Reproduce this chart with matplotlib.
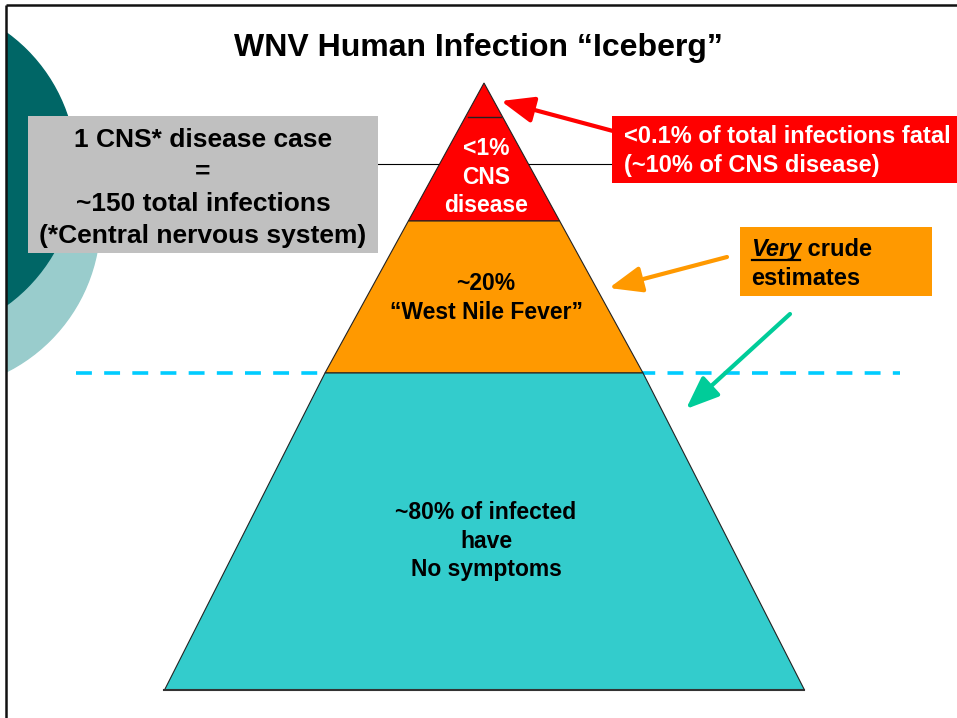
import matplotlib.pyplot as plt
from matplotlib.patches import Polygon, Circle, Rectangle

# Text content
title = "WNV Human Infection \u201cIceberg\u201d"
layer_labels = ["<1%\nCNS\ndisease",
                "~20%\n\u201cWest Nile Fever\u201d",
                "~80% of infected\nhave\nNo symptoms"]
layer_colors = ["#FF0000", "#FF9900", "#33CCCC"]
layer_text_colors = ["white", "black", "black"]
ratio_lines = ["1 CNS* disease case", "=", "~150 total infections",
               "(*Central nervous system)"]
fatal_lines = ["<0.1% of total infections fatal", "(~10% of CNS disease)"]

plt.rcParams['font.family'] = ['Liberation Sans', 'DejaVu Sans']

fig = plt.figure(figsize=(9.57, 7.18), dpi=100)
ax = fig.add_axes([0, 0, 1, 1])
ax.set_xlim(0, 957)
ax.set_ylim(718, 0)
ax.axis('off')

# background decoration circles, clipped to the frame
clip = Rectangle((6, 5), 960, 720, transform=ax.transData, visible=False)
ax.add_patch(clip)
for c in [Circle((-70, 220), 170, color="#99CCCC", zorder=1),
          Circle((-92, 169), 168, color="#006666", zorder=2)]:
    ax.add_patch(c)
    c.set_clip_path(clip)

# frame
ax.plot([6, 6], [718, 5], color="#111111", lw=1.8, zorder=10, solid_capstyle='butt')
ax.plot([6, 957], [5, 5], color="#111111", lw=1.8, zorder=10, solid_capstyle='butt')

ax.text(478, 56, title, ha='center', va='baseline', fontsize=23, fontweight='bold')

# pyramid geometry: upper triangle (red + orange) and lower trapezoid
apex_x, apex_y = 484, 83
mid_y, base_y = 373, 690
cut_y = 221
top_half = 159     # half width at mid_y
base_half = 320    # half width at base_y


def half_width(y):
    return top_half * (y - apex_y) / (mid_y - apex_y)


hw_cut = half_width(cut_y)
shapes = [
    [(apex_x, apex_y), (apex_x + hw_cut, cut_y), (apex_x - hw_cut, cut_y)],
    [(apex_x - hw_cut, cut_y), (apex_x + hw_cut, cut_y),
     (apex_x + top_half, mid_y), (apex_x - top_half, mid_y)],
    [(apex_x - top_half, mid_y), (apex_x + top_half, mid_y),
     (apex_x + base_half + 0.5, base_y), (apex_x - base_half + 0.5, base_y)],
]
for pts, col in zip(shapes, layer_colors):
    ax.add_patch(Polygon(pts, closed=True, facecolor=col, edgecolor="#222222",
                         lw=0.8, zorder=5))
ax.plot([apex_x - base_half, apex_x + base_half], [base_y, base_y],
        color="#333333", lw=1.5, zorder=6)

# small cap line near apex
hw_small = half_width(117)
ax.plot([apex_x - hw_small + 3, apex_x + hw_small - 2], [117, 117],
        color="#222222", lw=1, zorder=6)

# layer labels
label_y = [177, 298, 541]
for txt, y, tc in zip(layer_labels, label_y, layer_text_colors):
    ax.text(486, y, txt, ha='center', va='center', fontsize=16.5,
            fontweight='bold', color=tc, zorder=7, linespacing=1.3)

# connector line behind pyramid
ax.plot([378, 612], [164, 164], color="black", lw=0.8, zorder=3)

# water line
ax.plot([76, 900], [373, 373], color="#00CCFF", lw=2.6, zorder=3,
        ls=(0, (4.4, 3.4)), dash_capstyle='butt')

# grey ratio box
ax.add_patch(Rectangle((28, 116), 350, 137, facecolor="#C0C0C0",
                       edgecolor='none', zorder=4))
for i, line in enumerate(ratio_lines):
    ax.text(203, 147 + 32 * i, line, ha='center', va='baseline', fontsize=19,
            fontweight='bold', zorder=5)

# red fatality box
ax.add_patch(Rectangle((612, 116), 350, 67, facecolor="#FF0000",
                       edgecolor='none', zorder=4))
for i, line in enumerate(fatal_lines):
    ax.text(624, 143 + 29 * i, line, ha='left', va='baseline', fontsize=17,
            fontweight='bold', color='white', zorder=5)

# orange estimates box
ax.add_patch(Rectangle((740, 227), 192, 69, facecolor="#FF9900",
                       edgecolor='none', zorder=4))
t_very = ax.text(751, 256, "Very", ha='left', va='baseline', fontsize=17,
                 fontweight='bold', fontstyle='italic', zorder=5)
fig.canvas.draw()
bb = t_very.get_window_extent()
inv = ax.transData.inverted()
x0, _ = inv.transform((bb.x0, bb.y0))
x1, _ = inv.transform((bb.x1, bb.y0))
ax.text(x1, 256, " crude", ha='left', va='baseline', fontsize=17,
        fontweight='bold', zorder=5)
ax.plot([x0 + 1, x1 - 1], [260, 260], color='black', lw=1.6, zorder=5)
ax.text(751, 285, "estimates", ha='left', va='baseline', fontsize=17,
        fontweight='bold', zorder=5)

# arrows
arrows = [((613, 131), (501, 101), "#FF0000"),
          ((727, 257), (609, 288), "#FF9900"),
          ((790, 314), (686, 409), "#00CC99")]
for tail, head, col in arrows:
    ax.annotate("", xy=head, xytext=tail, zorder=8,
                arrowprops=dict(arrowstyle='-|>,head_length=1.0,head_width=0.4',
                                color=col, lw=3, shrinkA=0, shrinkB=0,
                                mutation_scale=20))

fig.savefig("out.png", dpi=100)
